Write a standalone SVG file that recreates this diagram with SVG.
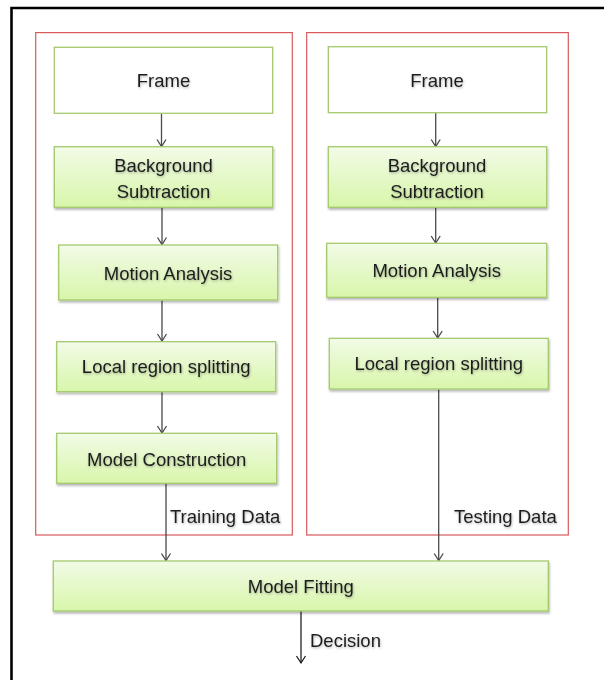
<svg xmlns="http://www.w3.org/2000/svg" width="604" height="680" viewBox="0 0 604 680">
<style>
.box{stroke:#a4c96e;stroke-width:1.3;fill:url(#g);filter:url(#sh)}
.wbox{stroke:#a4c96e;stroke-width:1.3;fill:#ffffff}
.grp{fill:none;stroke:#d9595b;stroke-width:1.2}
.t{font-family:"Liberation Sans",Arial,sans-serif;font-size:18.5px;fill:#1e1e1e;text-anchor:middle;filter:url(#ts)}
.lbl{font-family:"Liberation Sans",Arial,sans-serif;font-size:18.5px;fill:#1e1e1e;filter:url(#ts)}
.c{stroke:#4a4a4a;stroke-width:1.3;fill:none;marker-end:url(#ah)}
.cd{stroke:#111111;stroke-width:1.2;fill:none;marker-end:url(#ahd)}
</style>
<defs>
<linearGradient id="g" x1="0" y1="0" x2="0" y2="1">
<stop offset="0" stop-color="#f2fbe7"/>
<stop offset="1" stop-color="#d8f6aa"/>
</linearGradient>
<filter id="sh" x="-5%" y="-10%" width="110%" height="130%">
<feDropShadow dx="0.8" dy="2" stdDeviation="1.2" flood-color="#000000" flood-opacity="0.28"/>
</filter>
<filter id="ts" x="-10%" y="-30%" width="120%" height="160%">
<feDropShadow dx="0.6" dy="1.2" stdDeviation="0.8" flood-color="#000000" flood-opacity="0.3"/>
</filter>
<marker id="ah" markerWidth="12" markerHeight="12" refX="9" refY="6" orient="auto" markerUnits="userSpaceOnUse" viewBox="0 0 12 12">
<path d="M2,1.5 L9,6 L2,10.5" fill="none" stroke="#4a4a4a" stroke-width="1.3"/>
</marker>
<marker id="ahd" markerWidth="12" markerHeight="12" refX="9" refY="6" orient="auto" markerUnits="userSpaceOnUse" viewBox="0 0 12 12">
<path d="M2,1.5 L9,6 L2,10.5" fill="none" stroke="#111111" stroke-width="1.2"/>
</marker>
</defs>
<rect width="604" height="680" fill="#ffffff"/>
<path d="M11.5,680 L11.5,8 L604,8" fill="none" stroke="#000000" stroke-width="2.6"/>
<g id="training-group"><rect class="grp" x="35.7" y="32.6" width="256.6" height="502.4"/><text class="lbl" x="170" y="523">Training Data</text></g>
<g id="testing-group"><rect class="grp" x="306.7" y="32.6" width="261.6" height="502.4"/><text class="lbl" x="454" y="523">Testing Data</text></g>
<g id="connectors">
<line class="c" x1="161.5" y1="113.5" x2="161.5" y2="146.5"/>
<line class="c" x1="162" y1="207.5" x2="162" y2="244.5"/>
<line class="c" x1="162" y1="300.5" x2="162" y2="341"/>
<line class="c" x1="162" y1="392" x2="162" y2="433"/>
<line class="c" x1="166" y1="484" x2="166" y2="560.5"/>
<line class="c" x1="435.7" y1="113" x2="435.7" y2="146.5"/>
<line class="c" x1="435.7" y1="207.5" x2="435.7" y2="243"/>
<line class="c" x1="437.7" y1="297.5" x2="437.7" y2="338"/>
<line class="c" x1="438.7" y1="389.5" x2="438.7" y2="560.5"/>
<line class="cd" x1="301" y1="611" x2="301" y2="663"/>
<text class="lbl" x="310" y="646.5">Decision</text>
</g>
<g id="frame-train"><rect class="wbox" x="54.3" y="47.3" width="218.4" height="66"/><text class="t" x="163.5" y="87">Frame</text></g>
<g id="bg-train"><rect class="box" x="54.3" y="146.7" width="218.4" height="60.6"/><text class="t" x="163.5" y="171.5">Background</text><text class="t" x="163.5" y="197.5">Subtraction</text></g>
<g id="motion-train"><rect class="box" x="58.7" y="245" width="219" height="55"/><text class="t" x="168" y="280">Motion Analysis</text></g>
<g id="local-train"><rect class="box" x="56.7" y="341.7" width="219" height="50"/><text class="t" x="166.2" y="373.3">Local region splitting</text></g>
<g id="model-construction"><rect class="box" x="56.7" y="433.3" width="220" height="50"/><text class="t" x="166.7" y="465.7">Model Construction</text></g>
<g id="frame-test"><rect class="wbox" x="328.3" y="46.7" width="218.4" height="66"/><text class="t" x="437" y="87">Frame</text></g>
<g id="bg-test"><rect class="box" x="328.3" y="146.7" width="218.4" height="60.6"/><text class="t" x="437" y="171.5">Background</text><text class="t" x="437" y="197.5">Subtraction</text></g>
<g id="motion-test"><rect class="box" x="326.7" y="243.3" width="220" height="54"/><text class="t" x="436.7" y="276.7">Motion Analysis</text></g>
<g id="local-test"><rect class="box" x="329.3" y="338.3" width="219" height="50.7"/><text class="t" x="438.8" y="370">Local region splitting</text></g>
<g id="model-fitting"><rect class="box" x="53.3" y="561" width="495" height="50"/><text class="t" x="300.8" y="593.3">Model Fitting</text></g>
</svg>
